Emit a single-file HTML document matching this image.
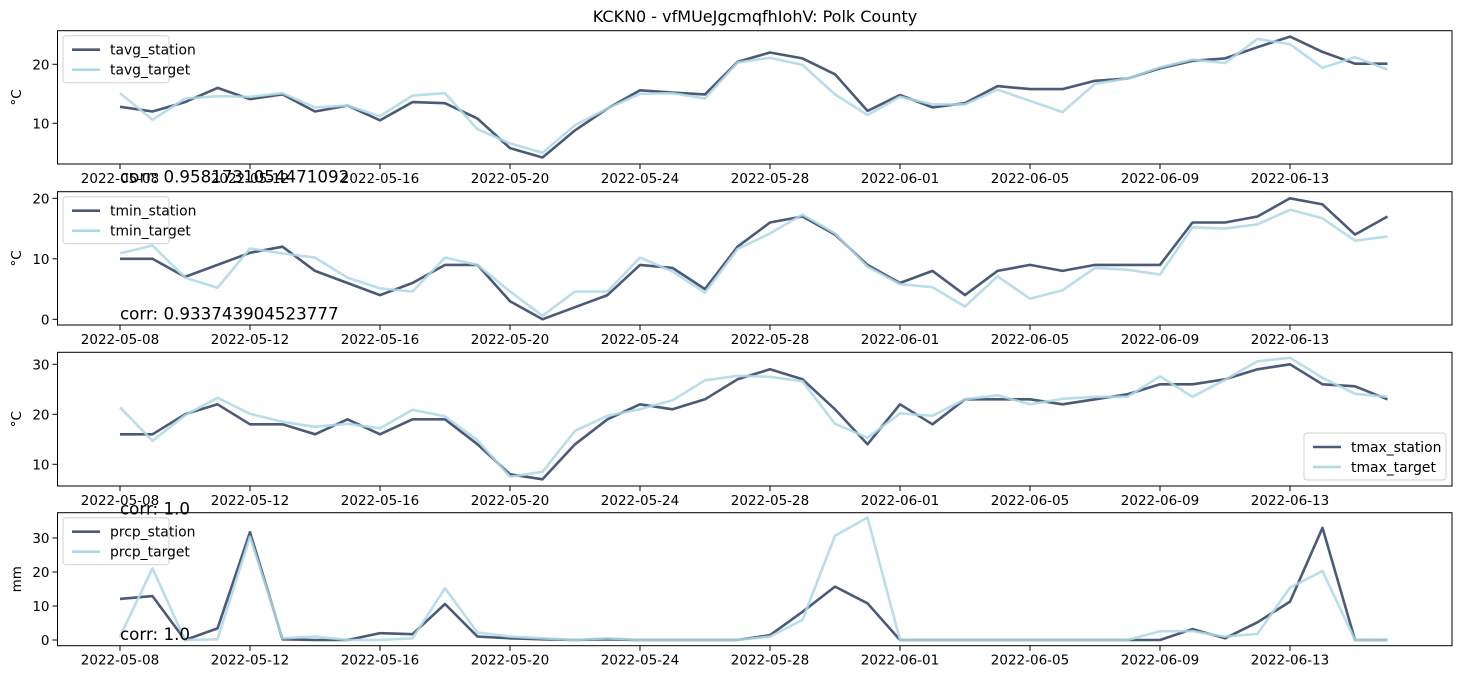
<!DOCTYPE html>
<html><head><meta charset="utf-8"><style>
body{margin:0;background:#fff;}
svg text{font-family:"DejaVu Sans","Liberation Sans",sans-serif;fill:#000;}
</style></head><body>
<svg id="fig" width="1462" height="680" viewBox="0 0 1462 680" xmlns="http://www.w3.org/2000/svg">
<rect width="1462" height="680" fill="#fff"/>
<text x="755" y="22" font-size="16" text-anchor="middle">KCKN0 - vfMUeJgcmqfhIohV: Polk County</text>
</svg>
<script>
const dates = ["2022-05-08","2022-05-12","2022-05-16","2022-05-20","2022-05-24","2022-05-28","2022-06-01","2022-06-05","2022-06-09","2022-06-13"];
const tavgStation = [12.8,12.0,13.6,16.0,14.1,14.9,12.0,13.0,10.5,13.6,13.4,10.8,5.8,4.2,8.8,12.5,15.6,15.2,14.9,20.4,22.0,21.0,18.3,12.1,14.8,12.7,13.4,16.3,15.8,15.8,17.2,17.6,19.3,20.6,21.0,22.9,24.7,22.1,20.1,20.1];
const tavgTarget = [15.1,10.6,14.2,14.6,14.5,15.1,12.7,13.0,11.2,14.7,15.1,9.0,6.6,5.0,9.7,12.5,15.0,15.1,14.2,20.3,21.1,19.9,14.9,11.4,14.5,13.2,13.2,15.7,13.8,11.9,16.7,17.6,19.5,20.8,20.2,24.3,23.4,19.4,21.2,19.1];
const tminStation = [10,10,7,9,11,12,8,6,4,6,9,9,3,0,2,4,9,8.5,5,12,16,17,14,9,6,8,4,8,9,8,9,9,9,16,16,17,20,19,14,17];
const tminTarget = [10.9,12.2,6.9,5.2,11.7,10.9,10.2,6.9,5.1,4.6,10.2,9.0,4.6,0.6,4.6,4.6,10.2,7.9,4.4,11.6,14.2,17.3,14.2,8.7,5.8,5.3,2.1,7.1,3.4,4.8,8.5,8.2,7.4,15.2,15.0,15.7,18.1,16.7,13.0,13.7];
const tmaxStation = [16,16,20,22,18,18,16,19,16,19,19,14,8,7,14,19,22,21,23,27,29,27,21,14,22,18,23,23,23,22,23,24,26,26,27,29,30,26,25.6,23];
const tmaxTarget = [21.4,14.7,19.8,23.3,20.1,18.5,17.5,18.1,17.2,20.9,19.6,14.8,7.5,8.5,16.7,19.7,21.0,22.8,26.8,27.7,27.5,26.6,18.1,15.3,20.2,19.7,23.0,23.8,22.0,23.1,23.5,23.5,27.6,23.5,26.9,30.6,31.3,27.3,24.1,23.5];
const prcpStation = [12.1,12.9,0,3.4,31.7,0.2,0,0,2.0,1.7,10.6,1.0,0.5,0.2,0,0.2,0,0,0,0,1.4,8.3,15.7,10.8,0,0,0,0,0,0,0,0,0,3.2,0.5,5.2,11.3,33.0,0,0];
const prcpTarget = [1.0,21.1,0,0.2,30.4,0.5,1.0,0,0,0.5,15.2,2.2,1.0,0.5,0,0.5,0,0,0,0,1.0,5.9,30.7,36.0,0,0,0,0,0,0,0,0,2.6,2.6,1.0,1.8,15.4,20.3,0,0];
const yTicks1 = [10,20], yTicks2 = [0,10,20], yTicks3 = [10,20,30], yTicks4 = [0,10,20,30];

const NS = "http://www.w3.org/2000/svg";
const svg = document.getElementById('fig');
const X0 = 57.5, X1 = 1452;
function xScale(i){ return 120 + 32.5*i; }
function mk(tag, attrs, parent){ const e=document.createElementNS(NS,tag); for(const k in attrs) e.setAttribute(k,attrs[k]); (parent||svg).appendChild(e); return e; }

const panels = [
 {key:'tavg', top:30.7, bot:164, v0:10, p0:123.3, ppu:5.9, ticks:yTicks1, unit:'°C', s:tavgStation, t:tavgTarget, corr:'corr: 0.9581731054471092', leg:'ul'},
 {key:'tmin', top:191.7, bot:325, v0:0, p0:319.3, ppu:6.05, ticks:yTicks2, unit:'°C', s:tminStation, t:tminTarget, corr:'corr: 0.933743904523777', leg:'ul'},
 {key:'tmax', top:352.3, bot:486, v0:10, p0:464.3, ppu:5.0, ticks:yTicks3, unit:'°C', s:tmaxStation, t:tmaxTarget, corr:'corr: 1.0', leg:'lr'},
 {key:'prcp', top:512.7, bot:645.7, v0:0, p0:640, ppu:3.4, ticks:yTicks4, unit:'mm', s:prcpStation, t:prcpTarget, corr:'corr: 1.0', leg:'ul'}
];

panels.forEach(p=>{
  const y = v => p.p0 - (v - p.v0)*p.ppu;
  const g = mk('g',{});
  
  
  p.ticks.forEach(v=>{
    const yy = y(v);
    const tl = mk('line',{x1:X0-5,x2:X0,y1:yy,y2:yy,stroke:'#000','stroke-width':1},g);
    
    
    const tx = mk('text',{x:X0-8,y:yy+5,'font-size':13.5,'text-anchor':'end'},g);
    tx.textContent = v;
    
    
  });
  dates.forEach((d,k)=>{
    const xx = xScale(k*4);
    const tl = mk('line',{x1:xx,x2:xx,y1:p.bot,y2:p.bot+5,stroke:'#000','stroke-width':1},g);
    
    
    const tx = mk('text',{x:xx,y:p.bot+19,'font-size':13.5,'text-anchor':'middle'},g);
    tx.textContent = d;
    
    
  });
  const yl = mk('text',{x:0,y:0,'font-size':13.5,'text-anchor':'middle',transform:`translate(21,${(p.top+p.bot)/2}) rotate(-90)`},g);
  yl.textContent = p.unit;
  
  
  const pts = arr => arr.map((v,i)=>xScale(i).toFixed(1)+','+y(v).toFixed(1)).join(' ');
  const ls = mk('polyline',{points:pts(p.s),fill:'none',stroke:'#4a5a78','stroke-width':2.6,'stroke-linejoin':'round'},g);
  
  
  const lt = mk('polyline',{points:pts(p.t),fill:'none',stroke:'#add8e6','stroke-opacity':0.85,'stroke-width':2.6,'stroke-linejoin':'round'},g);
  
  
  const fr = mk('rect',{x:X0,y:p.top,width:X1-X0,height:p.bot-p.top,fill:'none',stroke:'#000','stroke-width':1},g);
  
  
  const ct = mk('text',{x:120,y:y(0),'font-size':16.7},g);
  ct.textContent = p.corr;
  
  
  const lw = p.leg==='ul' ? 106 : 142, lh = 47;
  const lx = p.leg==='ul' ? 63 : 1304;
  const ly = p.leg==='ul' ? p.top+5 : p.bot-53;
  const lg = mk('g',{},g);
  
  
  mk('rect',{x:lx,y:ly,width:lw,height:lh,rx:3,fill:'#fff','fill-opacity':0.8,stroke:'#d0d0d0','stroke-width':1},lg);
  [['_station','#4a5a78'],['_target','#add8e6']].forEach((e,j)=>{
    const yy = ly+14+j*20;
    const sw = mk('line',{x1:lx+9,x2:lx+37,y1:yy,y2:yy,stroke:e[1],'stroke-width':2.6},lg);
    
    
    const tx = mk('text',{x:lx+47,y:yy+5,'font-size':13.9},lg);
    tx.textContent = p.key+e[0];
    
    
  });
});
</script>
</body></html>
